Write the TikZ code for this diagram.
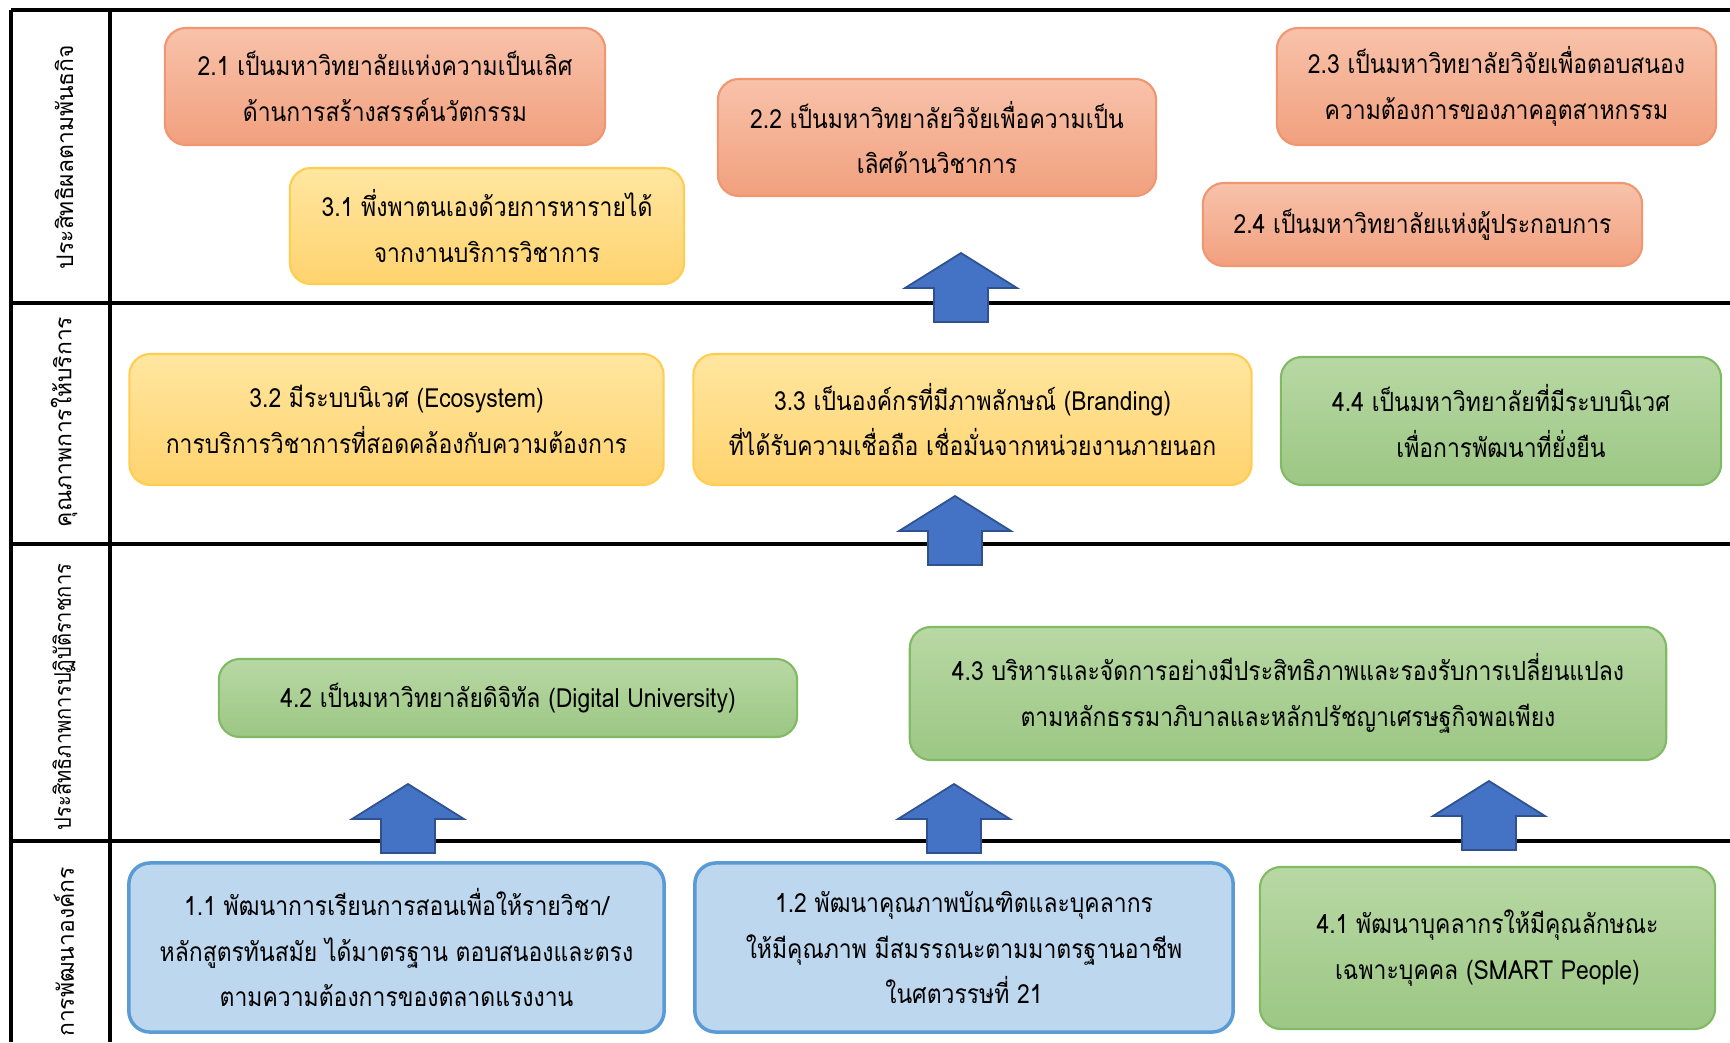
\documentclass[tikz,border=0pt]{standalone}
\usepackage{fontspec}
\setmainfont[Script=Thai, FakeStretch=0.87]{Loma}
\newfontfamily\lblfont[Script=Thai]{Loma}
\newfontfamily\lblnarrow[Script=Thai, FakeStretch=0.88]{Loma}
\usepackage{tikz}

\definecolor{salTop}{RGB}{248,194,170}
\definecolor{salBot}{RGB}{241,160,126}
\definecolor{salLine}{RGB}{240,150,112}
\definecolor{yelTop}{RGB}{255,230,160}
\definecolor{yelBot}{RGB}{255,211,110}
\definecolor{yelLine}{RGB}{255,205,80}
\definecolor{grnTop}{RGB}{184,216,164}
\definecolor{grnBot}{RGB}{156,199,132}
\definecolor{grnLine}{RGB}{130,186,100}
\definecolor{bluFill}{RGB}{189,215,238}
\definecolor{bluLine}{RGB}{91,155,213}
\definecolor{arrFill}{RGB}{68,114,196}
\definecolor{arrLine}{RGB}{47,82,143}

\begin{document}
\begin{tikzpicture}[x=0.01cm,y=-0.01cm,
  box/.style={rounded corners=6pt, align=center, inner sep=0pt,
    font=\fontsize{7.5}{13}\selectfont, line width=0.6pt},
  salbox/.style={box, top color=salTop, bottom color=salBot, draw=salLine},
  yelbox/.style={box, top color=yelTop, bottom color=yelBot, draw=yelLine},
  grnbox/.style={box, top color=grnTop, bottom color=grnBot, draw=grnLine},
  blubox/.style={box, fill=bluFill, draw=bluLine, line width=1pt},
  lbl/.style={rotate=90, font=\lblfont\fontsize{6.5}{8}\selectfont},
  grid/.style={line width=0.9pt},
  blockarr/.style={fill=arrFill, draw=arrLine, line width=0.5pt}]

  \useasboundingbox (0,0) rectangle (1730,1042);
  \fill[white] (0,0) rectangle (1730,1042);

  % table lines
  \draw[grid] (11,10) -- (1730,10);
  \draw[grid] (11,303) -- (1730,303);
  \draw[grid] (11,544) -- (1730,544);
  \draw[grid] (11,841) -- (1730,841);
  \draw[grid] (11,10) -- (11,1042);
  \draw[grid] (110,10) -- (110,1042);

  % row labels
  \node[lbl] (lab1) at (64,157) {ประสิทธิผลตามพันธกิจ};
  \node[lbl] (lab2) at (64,422) {คุณภาพการให้บริการ};
  \node[lbl, font=\lblnarrow\fontsize{6.5}{8}\selectfont] (lab3) at (64,697) {ประสิทธิภาพการปฏิบัติราชการ};
  \node[lbl] (lab4) at (64,952) {การพัฒนาองค์กร};

  % row 1
  \node[salbox, minimum width=4.4cm, minimum height=1.17cm] (m21) at (385,86.5)
    {2.1 เป็นมหาวิทยาลัยแห่งความเป็นเลิศ\\ด้านการสร้างสรรค์นวัตกรรม};
  \node[salbox, minimum width=4.38cm, minimum height=1.17cm] (m22) at (937,137.5)
    {2.2 เป็นมหาวิทยาลัยวิจัยเพื่อความเป็น\\เลิศด้านวิชาการ};
  \node[salbox, minimum width=4.39cm, minimum height=1.17cm] (m23) at (1496.5,86.5)
    {2.3 เป็นมหาวิทยาลัยวิจัยเพื่อตอบสนอง\\ความต้องการของภาคอุตสาหกรรม};
  \node[salbox, minimum width=4.39cm, minimum height=0.83cm] (m24) at (1422.5,224.5)
    {2.4 เป็นมหาวิทยาลัยแห่งผู้ประกอบการ};
  \node[yelbox, minimum width=3.94cm, minimum height=1.16cm] (m31) at (487,226)
    {3.1 พึ่งพาตนเองด้วยการหารายได้\\จากงานบริการวิชาการ};

  % row 2
  \node[yelbox, minimum width=5.34cm, minimum height=1.31cm] (m32) at (396.5,419.5)
    {3.2 มีระบบนิเวศ (Ecosystem)\\การบริการวิชาการที่สอดคล้องกับความต้องการ};
  \node[yelbox, minimum width=5.58cm, minimum height=1.31cm] (m33) at (972.5,419.5)
    {3.3 เป็นองค์กรที่มีภาพลักษณ์ (Branding)\\ที่ได้รับความเชื่อถือ เชื่อมั่นจากหน่วยงานภายนอก};
  \node[grnbox, minimum width=4.4cm, minimum height=1.28cm] (m44) at (1501,421)
    {4.4 เป็นมหาวิทยาลัยที่มีระบบนิเวศ\\เพื่อการพัฒนาที่ยั่งยืน};

  % row 3
  \node[grnbox, minimum width=5.78cm, minimum height=0.78cm] (m42) at (508,698)
    {4.2 เป็นมหาวิทยาลัยดิจิทัล (Digital University)};
  \node[grnbox, minimum width=7.56cm, minimum height=1.33cm] (m43) at (1288,693.5)
    {4.3 บริหารและจัดการอย่างมีประสิทธิภาพและรองรับการเปลี่ยนแปลง\\ตามหลักธรรมาภิบาลและหลักปรัชญาเศรษฐกิจพอเพียง};

  % row 4
  \node[blubox, minimum width=5.35cm, minimum height=1.69cm] (m11) at (396.5,947.5)
    {1.1 พัฒนาการเรียนการสอนเพื่อให้รายวิชา/\\หลักสูตรทันสมัย ได้มาตรฐาน ตอบสนองและตรง\\ตามความต้องการของตลาดแรงงาน};
  \node[blubox, minimum width=5.38cm, minimum height=1.69cm] (m12) at (964,947.5)
    {1.2 พัฒนาคุณภาพบัณฑิตและบุคลากร\\ให้มีคุณภาพ มีสมรรถนะตามมาตรฐานอาชีพ\\ในศตวรรษที่ 21};
  \node[grnbox, minimum width=4.55cm, minimum height=1.62cm] (m41) at (1487.5,948)
    {4.1 พัฒนาบุคลากรให้มีคุณลักษณะ\\เฉพาะบุคคล (SMART People)};

  % block arrows (tip x/y)
  \foreach \ax/\ay in {961/253, 955/496, 408/784, 954/784, 1489/781}
    \draw[blockarr] (\ax,\ay) -- (\ax+56,\ay+35) -- (\ax+27,\ay+35)
      -- (\ax+27,\ay+69) -- (\ax-27,\ay+69) -- (\ax-27,\ay+35)
      -- (\ax-56,\ay+35) -- cycle;
\end{tikzpicture}
\end{document}
